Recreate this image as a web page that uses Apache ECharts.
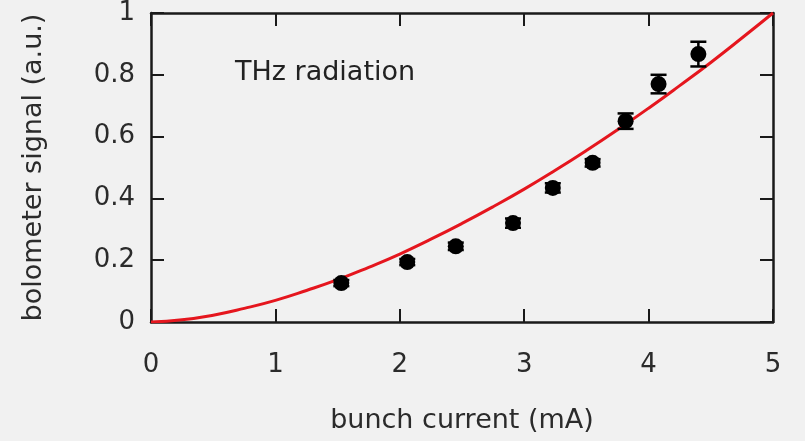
<!DOCTYPE html>
<html>
<head>
<meta charset="utf-8">
<script src="https://cdn.jsdelivr.net/npm/echarts@6/dist/echarts.min.js"></script>
<style>
  html, body { margin: 0; padding: 0; background: #f1f1f1; }
  #chart { width: 805px; height: 441px; }
</style>
</head>
<body>
<div id="chart"></div>
<script>
// Measured bolometer signal vs bunch current
const currents = [1.53, 2.06, 2.45, 2.91, 3.23, 3.55, 3.815, 4.08, 4.40];
const signals  = [0.126, 0.194, 0.245, 0.320, 0.434, 0.515, 0.650, 0.770, 0.867];
const errors   = [0.010, 0.010, 0.012, 0.015, 0.015, 0.012, 0.025, 0.030, 0.040];

// Fitted curve, sampled along the current axis
const fitCurrents = [0, 0.25, 0.5, 0.75, 1, 1.25, 1.5, 1.75, 2, 2.25, 2.5, 2.75, 3, 3.25, 3.5, 3.75, 4, 4.25, 4.5, 4.75, 5];
const fitSignals  = [0, 0.007, 0.022, 0.044, 0.070, 0.102, 0.137, 0.177, 0.220, 0.268, 0.319, 0.373, 0.430, 0.491, 0.555, 0.622, 0.692, 0.765, 0.840, 0.919, 1.0];

const xTicks = [0, 1, 2, 3, 4, 5];
const yTicks = [0, 0.2, 0.4, 0.6, 0.8, 1];

const FONT = 'DejaVu Sans';
const INK = '#1a1a1a';
const TEXT = '#2b2b2b';

const points = currents.map((x, i) => [x, signals[i]]);
const errData = currents.map((x, i) => [x, signals[i], errors[i]]);
const fit = fitCurrents.map((x, i) => [x, fitSignals[i]]);

const chart = echarts.init(document.getElementById('chart'));

// Frame on all four sides, ticks pointing into the plot
const axisLineStyle = { show: true, onZero: false, lineStyle: { color: INK, width: 2.5 } };
const tickStyle = { show: true, inside: true, length: 13, lineStyle: { color: INK, width: 2 } };

chart.setOption({
  backgroundColor: '#f1f1f1',
  animation: false,
  grid: { left: 151, right: 32, top: 13, bottom: 119 },
  xAxis: [{
    type: 'value', position: 'bottom', min: xTicks[0], max: xTicks[xTicks.length - 1], interval: 1,
    axisLine: axisLineStyle, axisTick: tickStyle, splitLine: { show: false },
    axisLabel: { color: TEXT, fontFamily: FONT, fontSize: 26, margin: 30 },
    name: 'bunch current (mA)', nameLocation: 'middle', nameGap: 85,
    nameTextStyle: { color: TEXT, fontFamily: FONT, fontSize: 27 }
  }, {
    type: 'value', position: 'top', min: xTicks[0], max: xTicks[xTicks.length - 1], interval: 1,
    axisLine: axisLineStyle, axisTick: tickStyle, axisLabel: { show: false }, splitLine: { show: false }
  }],
  yAxis: [{
    type: 'value', position: 'left', min: yTicks[0], max: yTicks[yTicks.length - 1], interval: 0.2,
    axisLine: axisLineStyle, axisTick: tickStyle, splitLine: { show: false },
    axisLabel: { color: TEXT, fontFamily: FONT, fontSize: 26, margin: 16 },
    name: 'bolometer signal (a.u.)', nameLocation: 'middle', nameGap: 104,
    nameTextStyle: { color: TEXT, fontFamily: FONT, fontSize: 27 }
  }, {
    type: 'value', position: 'right', min: yTicks[0], max: yTicks[yTicks.length - 1], interval: 0.2,
    axisLine: axisLineStyle, axisTick: tickStyle, axisLabel: { show: false }, splitLine: { show: false }
  }],
  graphic: [{
    type: 'text', left: 235, top: 59,
    style: { text: 'THz radiation', font: '27px "DejaVu Sans"', fill: '#222' }
  }],
  series: [{
    type: 'line', data: fit, smooth: true, showSymbol: false, z: 2,
    lineStyle: { color: '#e5161e', width: 3 }
  }, {
    type: 'custom', data: errData, z: 3,
    renderItem: function (params, api) {
      const x = api.value(0), y = api.value(1), e = api.value(2);
      const top = api.coord([x, y + e]);
      const bot = api.coord([x, y - e]);
      const hw = 8;
      const style = { stroke: '#000', lineWidth: 2.5 };
      return {
        type: 'group',
        children: [
          { type: 'line', shape: { x1: top[0], y1: top[1], x2: bot[0], y2: bot[1] }, style },
          { type: 'line', shape: { x1: top[0] - hw, y1: top[1], x2: top[0] + hw, y2: top[1] }, style },
          { type: 'line', shape: { x1: bot[0] - hw, y1: bot[1], x2: bot[0] + hw, y2: bot[1] }, style }
        ]
      };
    }
  }, {
    type: 'scatter', data: points, z: 4,
    symbol: 'circle', symbolSize: 16,
    itemStyle: { color: '#000', opacity: 1 }
  }]
});
</script>
</body>
</html>
